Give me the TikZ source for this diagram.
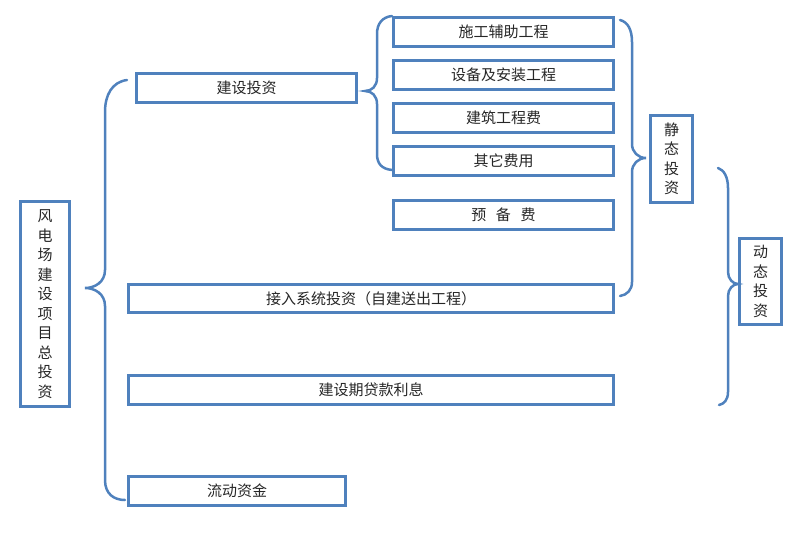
\documentclass[tikz,border=0pt]{standalone}
\usepackage{fontspec}
\setmainfont{Noto Sans CJK SC}
\usetikzlibrary{positioning}
\definecolor{boxblue}{RGB}{79,129,189}
\tikzstyle{block} = [draw=boxblue, line width=3pt, rectangle, inner sep=0pt,
minimum height=29pt, text centered, text=black!85, font=\fontsize{15}{17}\selectfont]
\tikzstyle{vblock} = [block, align=center, font=\fontsize{15}{19.5}\selectfont]
\tikzstyle{brace} = [draw=boxblue, line width=2.5pt, line cap=round]

\begin{document}
\begin{tikzpicture}[x=1pt, y=-1pt, node distance=11pt]
\useasboundingbox (0,0) rectangle (800,537);

% Place nodes
\node [vblock, minimum width=49pt, minimum height=205pt] (total) at (45,304) {风\\电\\场\\建\\设\\项\\目\\总\\投\\资};
\node [block, minimum width=220pt] (build) at (246.5,88) {建设投资};
\node [block, minimum width=220pt] (aux) at (503.5,32) {施工辅助工程};
\node [block, minimum width=220pt, below=of aux] (equip) {设备及安装工程};
\node [block, minimum width=220pt, below=of equip] (civil) {建筑工程费};
\node [block, minimum width=220pt, below=of civil] (other) {其它费用};
\node [block, minimum width=220pt, below=22pt of other] (reserve) {预\hspace{0.65em}备\hspace{0.65em}费};
\node [block, minimum width=485pt, minimum height=28pt] (grid) at (371,298.5) {接入系统投资（自建送出工程）};
\node [block, minimum width=485pt] (loan) at (371,389.5) {建设期贷款利息};
\node [block, minimum width=217pt] (fund) at (237,490.5) {流动资金};
\node [vblock, minimum width=42pt, minimum height=87pt] (static) at (671.5,159) {静\\态\\投\\资};
\node [vblock, minimum width=42pt, minimum height=86pt] (dynamic) at (760.5,281.5) {动\\态\\投\\资};

% Brace ends
\coordinate (lt) at (127,80);
\coordinate (ltip) at (85,288);
\coordinate (lb) at (125,500);
\coordinate (mt) at (392,16);
\coordinate (mtip) at (365,91);
\coordinate (mb) at (392,170);
\coordinate (rt) at (620,20);
\coordinate (rtip) at (646,158);
\coordinate (rb) at (620,296);
\coordinate (dt) at (718,168);
\coordinate (dtip) at (738,284);
\coordinate (db) at (719,405);

% Place braces
\draw [brace] (lt) .. controls (112,82) and (105,95) .. (105,112) -- (105,270)
  .. controls (105,282) and (95,288) .. (ltip) .. controls (95,288) and (105,294) .. (105,306)
  -- (105,480) .. controls (105,494) and (114,500) .. (lb);
\draw [brace] (mt) .. controls (382,17) and (377,24) .. (377,34) -- (377,78)
  .. controls (377,86) and (372,91) .. (mtip) .. controls (372,91) and (377,96) .. (377,104)
  -- (377,154) .. controls (377,164) and (382,169) .. (mb);
\draw [brace] (rt) .. controls (628,22) and (632,30) .. (632,42) -- (632,144)
  .. controls (632,152) and (638,158) .. (rtip) .. controls (638,158) and (632,164) .. (632,172)
  -- (632,282) .. controls (632,290) and (627,295) .. (rb);
\draw [brace] (dt) .. controls (724,170) and (728,177) .. (728,188) -- (728,272)
  .. controls (728,279) and (733,284) .. (dtip) .. controls (733,284) and (728,289) .. (728,296)
  -- (728,392) .. controls (728,400) and (724,404) .. (db);

\end{tikzpicture}
\end{document}
